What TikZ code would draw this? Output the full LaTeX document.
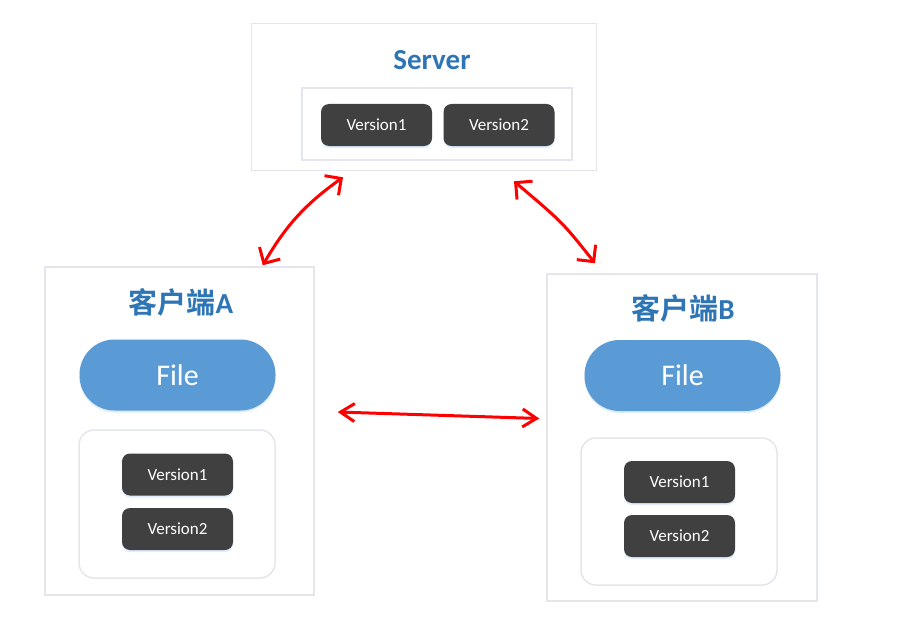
\documentclass[tikz,border=0pt]{standalone}
\usepackage{fontspec}
\setmainfont{Carlito}
\newfontfamily\cjk{Noto Sans CJK SC}[BoldFont={* Bold}]
\usetikzlibrary{arrows.meta,shadows,calc}
\definecolor{titolo}{HTML}{2E75B6}
\definecolor{filefill}{HTML}{5B9BD5}
\definecolor{verfill}{HTML}{404040}
\definecolor{bordo}{HTML}{E3E6EC}
\definecolor{rosso}{HTML}{FF0000}
\begin{document}
\begin{tikzpicture}[x=1pt, y=-1pt,
  box/.style={draw=bordo, line width=1.5pt, inner sep=0pt},
  tit/.style={text=titolo, font=\fontsize{29}{34}\selectfont\bfseries},
  ver/.style={fill=verfill, rounded corners=8pt, text=white, inner sep=0pt,
    minimum width=111pt, minimum height=42pt, font=\fontsize{17}{20}\selectfont,
    drop shadow={shadow xshift=0pt, shadow yshift=-2pt, fill=blue!60!cyan, opacity=0.12}},
  filenode/.style={fill=filefill, rounded corners=35pt, text=white, inner sep=0pt,
    minimum width=196pt, minimum height=71pt, font=\fontsize{30}{36}\selectfont,
    drop shadow={shadow xshift=0pt, shadow yshift=-2pt, fill=blue!60!cyan, opacity=0.12}},
  freccia/.style={draw=rosso, line width=3pt, line cap=round, line join=round}]
\useasboundingbox (0,0) rectangle (919,642);

% Server
\node[box, minimum width=345pt, minimum height=147pt] (server) at (424,97) {};
\node[tit] (servertit) at (432,60) {Server};
\node[box, minimum width=270pt, minimum height=72pt] (serverver) at (437,124) {};
\node[ver] (sv1) at (376.5,125) {Version1};
\node[ver] (sv2) at (499,125) {Version2};

% Client A
\node[box, minimum width=269pt, minimum height=328pt] (clientA) at (179.5,431) {};
\node[tit] (titA) at (181,302) {{\cjk 客户端}A};
\node[filenode] (fileA) at (177.5,375) {File};
\node[box, rounded corners=15pt, minimum width=196pt, minimum height=148pt] (verA) at (177,504) {};
\node[ver] (av1) at (177.5,474.5) {Version1};
\node[ver] (av2) at (177.5,529) {Version2};

% Client B
\node[box, minimum width=270pt, minimum height=327pt] (clientB) at (682,437.5) {};
\node[tit] (titB) at (683,308) {{\cjk 客户端}B};
\node[filenode] (fileB) at (682.5,375.5) {File};
\node[box, rounded corners=15pt, minimum width=196pt, minimum height=147pt] (verB) at (679,511.5) {};
\node[ver] (bv1) at (679.5,482) {Version1};
\node[ver] (bv2) at (679.5,536) {Version2};

% Frecce
\coordinate (aLow) at ($(clientA.north east)+(-52,-1)$);
\coordinate (aHigh) at ($(server.south)+(-81,6)$);
\coordinate (bHigh) at ($(server.south)+(90,10)$);
\coordinate (bLow) at ($(clientB.north)+(-87,-10)$);
\coordinate (mA) at ($(clientA.east)+(23,-19)$);
\coordinate (mB) at ($(clientB.west)+(-7,-19)$);

\draw[freccia, {Straight Barb[length=12pt,width=24pt]}-{Straight Barb[length=12pt,width=24pt]}]
  (aLow) to[bend left=12] (aHigh);
\draw[freccia, {Straight Barb[length=12pt,width=24pt]}-{Straight Barb[length=12pt,width=24pt]}]
  (bHigh) .. controls ($(bHigh)!0.55!(bLow)+(4,-4)$) .. (bLow);
\draw[freccia, {Straight Barb[length=14pt,width=18pt]}-{Straight Barb[length=14pt,width=18pt]}]
  (mA) -- (mB);

\end{tikzpicture}
\end{document}
